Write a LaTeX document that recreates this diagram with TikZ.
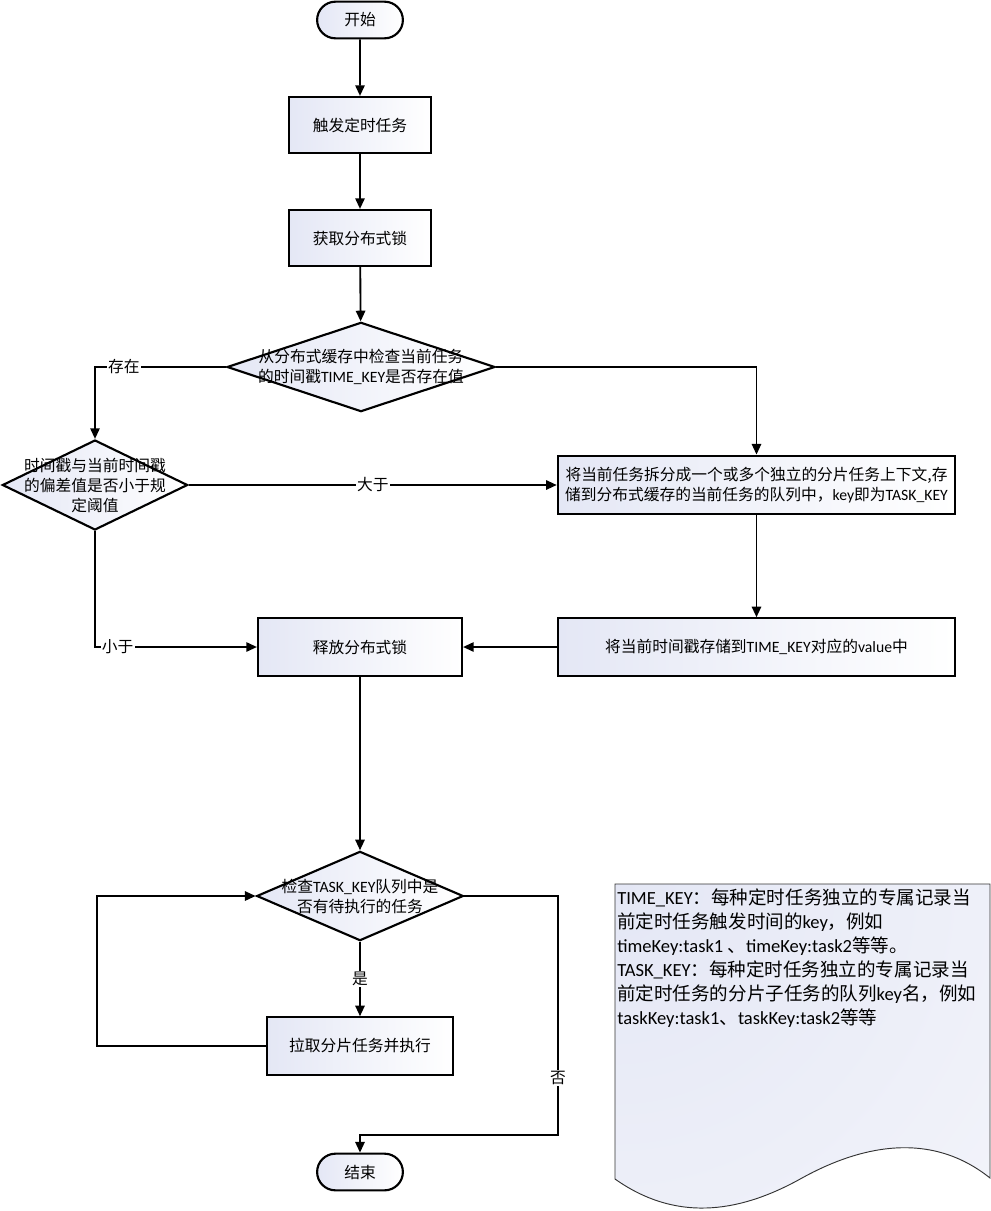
\documentclass[tikz,border=0pt]{standalone}
\usepackage{fontspec}
\setmainfont{Noto Sans CJK SC}
\newfontfamily\latinfont{Carlito}
\newcommand{\eng}[1]{{\latinfont #1}}
\usetikzlibrary{shapes.geometric,shapes.misc,arrows.meta}
\definecolor{boxfill}{RGB}{228,231,245}

\begin{document}
\begin{tikzpicture}[x=0.75pt,y=-0.75pt,
  font=\fontsize{11.8}{15}\selectfont,
  block/.style={rectangle, draw, line width=1.6pt, left color=boxfill, right color=white},
  term/.style={rounded rectangle, draw, line width=1.6pt, left color=boxfill, right color=white, minimum width=71pt, minimum height=27.5pt},
  decision/.style={diamond, draw, line width=1.6pt, left color=boxfill, right color=white, inner sep=0pt},
  line/.style={line width=1.4pt, -{Triangle[length=8pt,width=7pt]}},
  tag/.style={fill=white, inner sep=1pt}]
\useasboundingbox (0,0) rectangle (991,1211);

\node[term] (start) at (360,20) {开始};
\node[block, minimum width=107pt, minimum height=42pt] (trig) at (360,125) {触发定时任务};
\node[block, minimum width=107pt, minimum height=42pt] (lock) at (360,238) {获取分布式锁};
\node[decision, minimum width=201pt, minimum height=67pt,
  label={[align=center]center:从分布式缓存中检查当前任务\\的时间戳\eng{TIME\_KEY}是否存在值}] (check) at (361,367) {};
\node[decision, minimum width=139pt, minimum height=67.5pt,
  label={[align=center]center:时间戳与当前时间戳\\的偏差值是否小于规\\定阈值}] (cmp) at (95,485) {};
\node[block, minimum width=298pt, minimum height=44pt, align=center] (split) at (756.5,485)
  {将当前任务拆分成一个或多个独立的分片任务上下文,存\\储到分布式缓存的当前任务的队列中，\eng{key}即为\eng{TASK\_KEY}};
\node[block, minimum width=153pt, minimum height=43pt] (release) at (360,647) {释放分布式锁};
\node[block, minimum width=298pt, minimum height=43pt] (store) at (756.5,647)
  {将当前时间戳存储到\eng{TIME\_KEY}对应的\eng{value}中};
\node[decision, minimum width=155pt, minimum height=67pt,
  label={[align=center]center:检查\eng{TASK\_KEY}队列中是\\否有待执行的任务}] (hasTask) at (360,896) {};
\node[block, minimum width=140pt, minimum height=43pt] (pull) at (360,1046) {拉取分片任务并执行};
\node[term] (finish) at (360,1172) {结束};

\coordinate (loopL) at (97,1046);
\coordinate (noTurn) at (558,1135);

\draw[line] (start) -- (trig);
\draw[line] (trig) -- (lock);
\draw[line] (lock) -- (check);
\draw[line] (check.west) -| node[tag, pos=0.39] {存在} (cmp.north);
\draw[line] (check.east) -| (split.north);
\draw[line] (cmp.east) -- node[tag] {大于} (split.west);
\draw[line] (cmp.south) |- node[tag, pos=0.57] {小于} (release.west);
\draw[line] (split) -- (store);
\draw[line] (store) -- (release);
\draw[line] (release) -- (hasTask);
\draw[line] (hasTask) -- node[tag] {是} (pull);
\draw[line] (pull.west) -- (loopL) |- (hasTask.west);
\draw[line] (hasTask.east) -| node[tag, pos=0.88] {否} (noTurn) -| (finish.north);

% note
\draw[black!80, line width=0.7pt,
  path picture={\shade[inner color=boxfill, outer color=white] (path picture bounding box.north west) circle (960);}]
  (615,884) -- (990,884) -- (990,1178)
  .. controls (930,1130) and (860,1146) .. (802,1178)
  .. controls (745,1210) and (680,1225) .. (615,1179) -- cycle;
\node[anchor=north west, align=left, inner sep=0pt, font=\fontsize{13.9}{18}\selectfont] (note) at (617,889)
  {\eng{TIME\_KEY}：每种定时任务独立的专属记录当\\
   前定时任务触发时间的\eng{key}，例如\\
   \eng{timeKey:task1 }、\eng{timeKey:task2}等等。\\
   \eng{TASK\_KEY}：每种定时任务独立的专属记录当\\
   前定时任务的分片子任务的队列\eng{key}名，例如\\
   \eng{taskKey:task1}、\eng{taskKey:task2}等等};
\end{tikzpicture}
\end{document}
